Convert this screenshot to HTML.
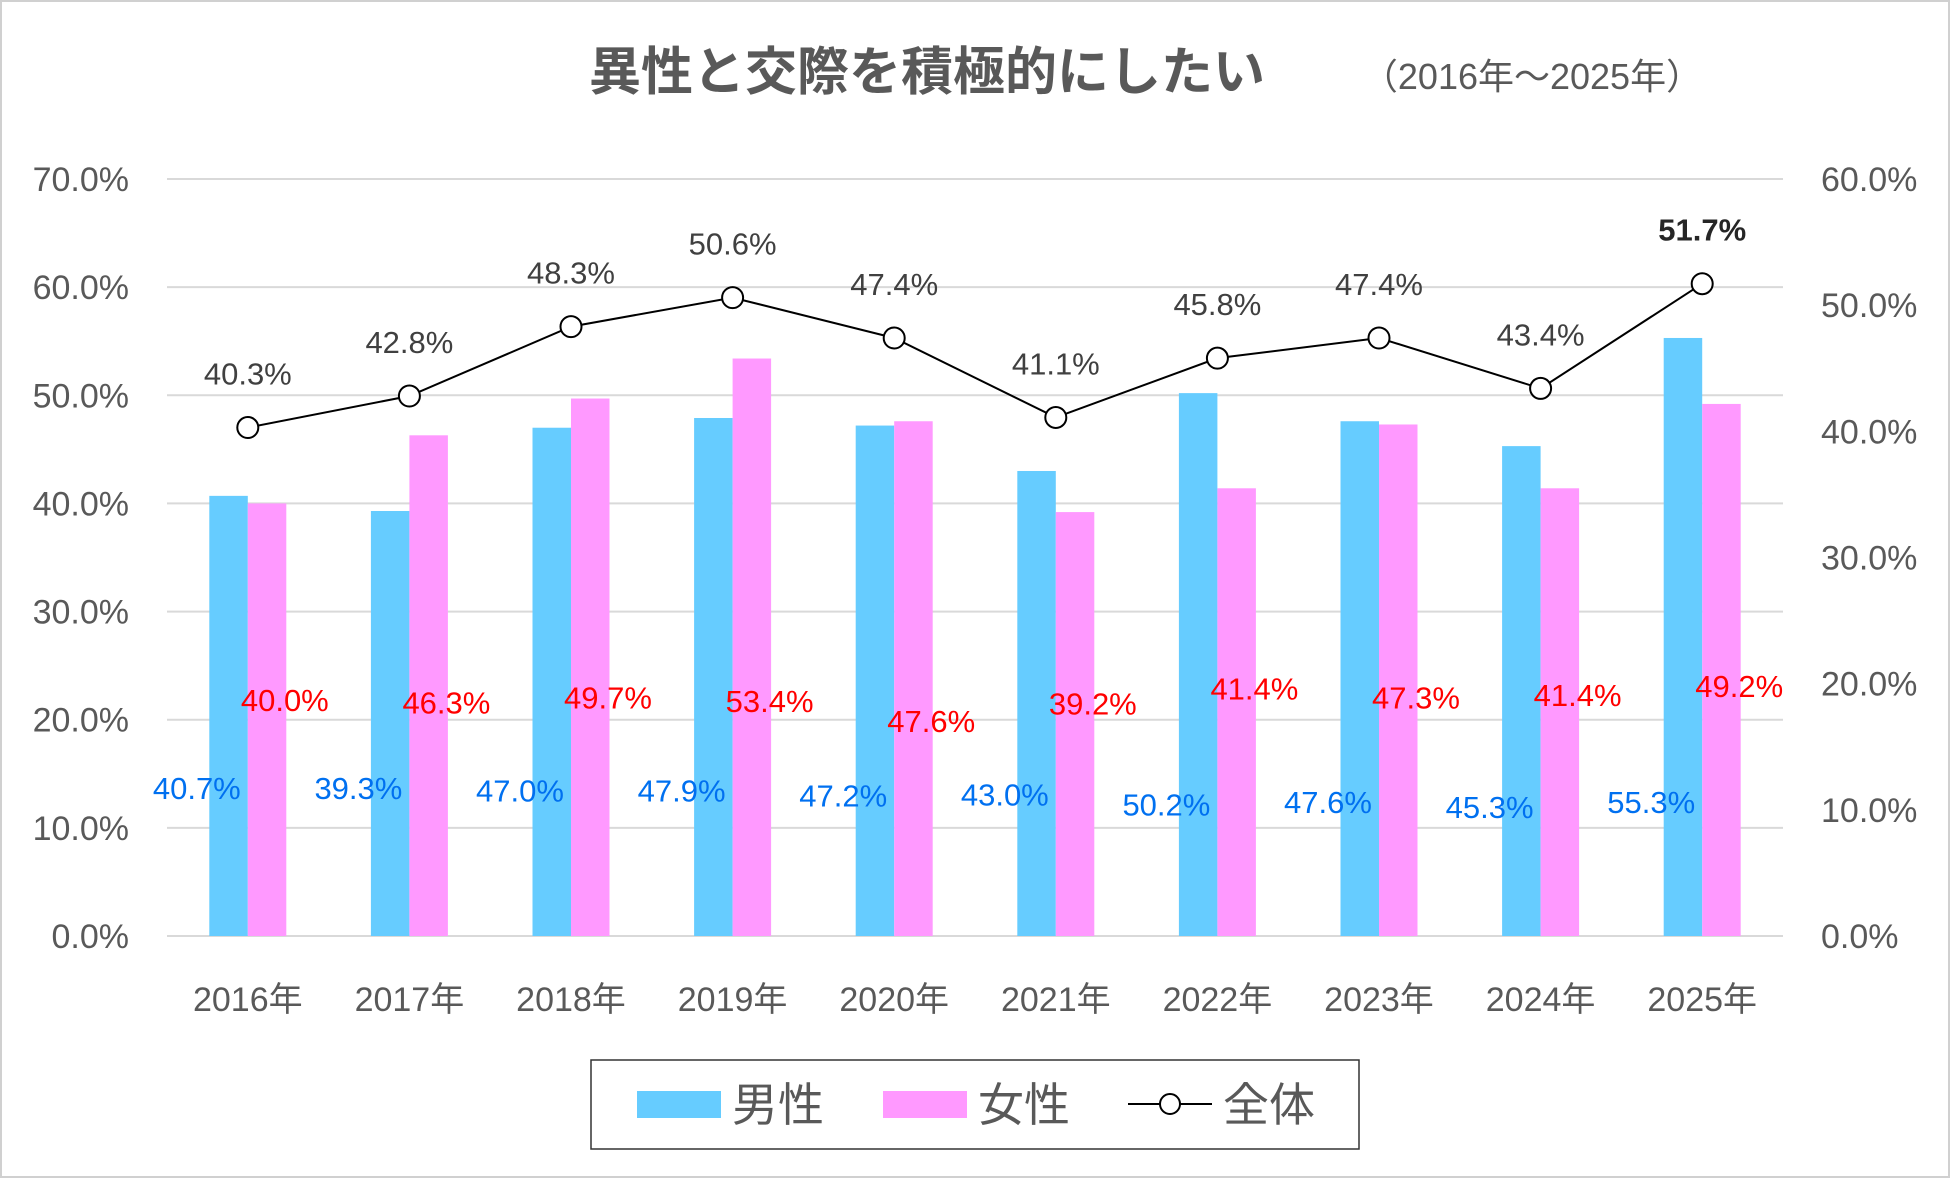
<!DOCTYPE html>
<html><head><meta charset="utf-8"><style>
body{margin:0;background:#fff}
svg{display:block;font-family:"Liberation Sans","Noto Sans CJK JP",sans-serif}
</style></head><body>
<svg id="c" width="1950" height="1178" xmlns="http://www.w3.org/2000/svg">
<rect x="1" y="1" width="1948" height="1176" fill="#fff" stroke="#d0d0d0" stroke-width="2"/>
<text x="927" y="90" text-anchor="middle" font-size="52" font-weight="bold" fill="#595959">異性と交際を積極的にしたい</text>
<text x="1532" y="89" text-anchor="middle" font-size="36" fill="#595959">（2016年～2025年）</text>
<g id="grid"></g><g id="bars"></g><g id="line"></g><g id="labels"></g>
<g>
<rect x="591" y="1060" width="768" height="89" fill="#fff" stroke="#333" stroke-width="1.5"/>
<rect x="637" y="1091" width="84" height="27" fill="#66ccff"/>
<text x="732" y="1121" font-size="46" fill="#595959">男性</text>
<rect x="883" y="1091" width="84" height="27" fill="#ff99ff"/>
<text x="978" y="1121" font-size="46" fill="#595959">女性</text>
<line x1="1128" y1="1104" x2="1212" y2="1104" stroke="#000" stroke-width="2"/>
<circle cx="1170" cy="1104" r="10" fill="#fff" stroke="#000" stroke-width="2"/>
<text x="1223" y="1121" font-size="46" fill="#595959">全体</text>
</g>
</svg>
<script>
const categories=["2016年","2017年","2018年","2019年","2020年","2021年","2022年","2023年","2024年","2025年"];
const male=[40.7,39.3,47.0,47.9,47.2,43.0,50.2,47.6,45.3,55.3];
const female=[40.0,46.3,49.7,53.4,47.6,39.2,41.4,47.3,41.4,49.2];
const total=[40.3,42.8,48.3,50.6,47.4,41.1,45.8,47.4,43.4,51.7];
const leftTicks=[0,10,20,30,40,50,60,70];
const rightTicks=[0,10,20,30,40,50,60];
const maleLabelDy=[633,633,635,635,639,638,646,644,648,644];
const femaleLabelDy=[562,564,560,563,579,565,553,560,558,551];
const NS="http://www.w3.org/2000/svg";
const L=167,R=1783,T=179,B=936;
const band=(R-L)/categories.length;
const cx=i=>L+band*(i+0.5);
const yL=v=>B-(B-T)*v/70;
const yR=v=>B-(B-T)*v/60;
function mk(tag,attrs,parent,text){const e=document.createElementNS(NS,tag);for(const k in attrs)e.setAttribute(k,attrs[k]);if(text!==undefined)e.textContent=text;document.getElementById(parent).appendChild(e);return e;}
leftTicks.forEach(t=>{
 const g=mk('line',{x1:L,x2:R,y1:yL(t),y2:yL(t),stroke:'#d9d9d9','stroke-width':2},'grid');
 
 
 const tx=mk('text',{x:129,y:yL(t)+12,'text-anchor':'end','font-size':34,fill:'#595959'},'grid',t.toFixed(1)+'%');
 
 
});
rightTicks.forEach(t=>{
 const tx=mk('text',{x:1821,y:yR(t)+12,'text-anchor':'start','font-size':34,fill:'#595959'},'grid',t.toFixed(1)+'%');
 
 
});
const bw=38.5,sc=1.2436;
categories.forEach((c,i)=>{
 const x=cx(i);
 const m=mk('rect',{x:x-bw,y:yL(male[i]),width:bw,height:B-yL(male[i]),fill:'#66ccff'},'bars');
 
 
 const f=mk('rect',{x:x,y:yL(female[i]),width:bw,height:B-yL(female[i]),fill:'#ff99ff'},'bars');
 
 
 const xl=mk('text',{x:x,y:1011,'text-anchor':'middle','font-size':34,fill:'#595959'},'labels',c);
 
 
 const ml=mk('text',{x:x-51,y:maleLabelDy[i]*sc+12,'text-anchor':'middle','font-size':31,fill:'#0070f0'},'labels',male[i].toFixed(1)+'%');
 
 
 const fl=mk('text',{x:x+37,y:femaleLabelDy[i]*sc+12,'text-anchor':'middle','font-size':31,fill:'#ff0000'},'labels',female[i].toFixed(1)+'%');
 
 
});
const pts=total.map((v,i)=>cx(i)+','+yR(v)).join(' ');
const pl=mk('polyline',{points:pts,fill:'none',stroke:'#000','stroke-width':2},'line');


total.forEach((v,i)=>{
 const c=mk('circle',{cx:cx(i),cy:yR(v),r:10.5,fill:'#fff',stroke:'#000','stroke-width':2},'line');
 
 
 const last=i===total.length-1;
 const t=mk('text',{x:cx(i),y:yR(v)-43,'text-anchor':'middle','font-size':31,fill:last?'#262626':'#404040','font-weight':last?'bold':'normal'},'labels',v.toFixed(1)+'%');
 
 
});
</script>
</body></html>
